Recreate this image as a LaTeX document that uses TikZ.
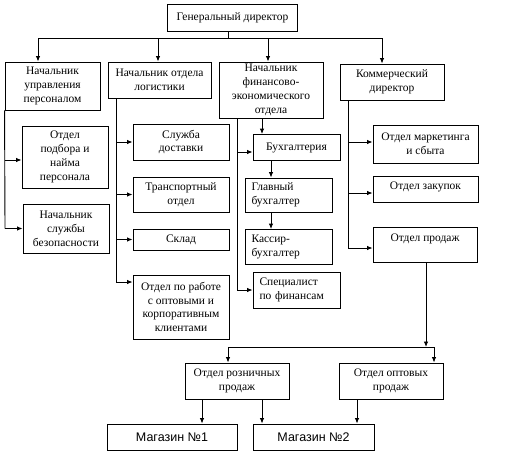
\documentclass[tikz,border=0pt]{standalone}
\usepackage{fontspec}
\setmainfont{Liberation Serif}
\newfontfamily\arialf{Liberation Sans}
\usetikzlibrary{arrows.meta}
\begin{document}
\begin{tikzpicture}[x=1pt,y=-1pt,
  box/.style={draw, line width=0.9pt, inner sep=0pt, align=center,
    font=\fontsize{11.5}{13.8}\selectfont},
  lbox/.style={box, align=left},
  sbox/.style={box, font=\arialf\fontsize{12.5}{14}\selectfont},
  ln/.style={line width=0.9pt},
  arr/.style={line width=0.9pt, -{Latex[length=5.5pt,width=4.5pt]}}]
\useasboundingbox (0,0) rectangle (510,474);
% top
\node[box, minimum width=130, minimum height=27] (gd) at (232.5,18) {Генеральный директор};
% level 2
\node[box, minimum width=95, minimum height=48] (hr) at (52.5,86) {Начальник\\управления\\персоналом};
\node[box, minimum width=103, minimum height=36] (lg) at (159.5,80) {Начальник отдела\\логистики};
\node[box, minimum width=104, minimum height=56] (fn) at (271,90) {Начальник\\финансово-\\экономического\\отдела};
\node[box, minimum width=104, minimum height=36] (km) at (392,82) {Коммерческий\\директор};
% HR column
\node[box, minimum width=86, minimum height=62] (ot) at (65,157) {Отдел\\подбора и\\найма\\персонала};
\node[box, minimum width=86, minimum height=49] (sb) at (66,228.5) {Начальник\\службы\\безопасности};
% logistics column
\node[box, minimum width=96, minimum height=36] (sd) at (181,142) {Служба\\доставки};
\node[box, minimum width=96, minimum height=35] (tr) at (181,194.5) {Транспортный\\отдел};
\node[box, minimum width=96, minimum height=21] (sk) at (181,239.5) {Склад};
\node[box, minimum width=96, minimum height=64] (ok) at (181,307) {Отдел по работе\\с оптовыми и\\корпоративным\\клиентами};
% finance column
\node[box, minimum width=87, minimum height=26] (bu) at (296.5,147.5) {Бухгалтерия};
\node[lbox, text width=74, minimum width=87, minimum height=34] (gb) at (288.5,195) {Главный\\бухгалтер};
\node[lbox, text width=74, minimum width=87, minimum height=35] (kb) at (288.5,247) {Кассир-\\бухгалтер};
\node[lbox, text width=74, minimum width=87, minimum height=36] (sf) at (296.5,290) {Специалист\\по финансам};
% commercial column
\node[box, minimum width=105, minimum height=38] (mk) at (425.5,144) {Отдел маркетинга\\и сбыта};
\node[box, minimum width=105, minimum height=26, text height=8pt, text depth=7pt] (zk) at (425.5,189) {Отдел закупок};
\node[box, minimum width=104, minimum height=35, text height=8pt, text depth=14pt] (pr) at (425,244.5) {Отдел продаж};
% sales
\node[box, minimum width=104, minimum height=36] (rz) at (237,381) {Отдел розничных\\продаж};
\node[box, minimum width=104, minimum height=36] (op) at (391,381) {Отдел оптовых\\продаж};
\node[sbox, minimum width=130, minimum height=26] (m1) at (172,437) {Магазин №1};
\node[sbox, minimum width=121, minimum height=26] (m2) at (313.5,437) {Магазин №2};

% top bus
\coordinate (b0) at (228,38);
\coordinate (b1) at (38,38);
\coordinate (b2) at (158,38);
\coordinate (b3) at (268,38);
\coordinate (b4) at (382,38);
\draw[ln] (gd.south -| b0) -- (b0);
\draw[ln] (b1) -- (b4);
\draw[arr] (b1) -- (b1 |- hr.north);
\draw[arr] (b2) -- (b2 |- lg.north);
\draw[arr] (b3) -- (b3 |- fn.north);
\draw[arr] (b4) -- (b4 |- km.north);

% HR
\coordinate (v1) at (5,110);
\draw[ln] (hr.south west) -- (v1 |- sb.west);
\draw[arr] (v1 |- 0,160) -- (ot.west |- 0,160);
\draw[arr] (v1 |- sb.west) -- (sb.west);

% logistics
\coordinate (v2) at (116,98);
\coordinate (v2e) at (116,282);
\draw[ln] (v2 |- lg.south) -- (v2e);
\draw[arr] (v2 |- sd.west) -- (sd.west);
\draw[arr] (v2 |- tr.west) -- (tr.west);
\draw[arr] (v2 |- sk.west) -- (sk.west);
\draw[arr] (v2e) -- (v2e -| ok.west);

% finance
\coordinate (v3) at (237,118);
\coordinate (v3b) at (237,152);
\coordinate (f1) at (262,118);
\coordinate (f2) at (271,160);
\draw[ln] (v3 |- fn.south) -- (v3 |- sf.west);
\draw[arr] (v3b) -- (v3b -| bu.west);
\draw[arr] (v3 |- sf.west) -- (sf.west);
\draw[arr] (f1 |- fn.south) -- (f1 |- bu.north);
\draw[arr] (f2 |- bu.south) -- (f2 |- gb.north);
\draw[arr] (f2 |- gb.south) -- (f2 |- kb.north);

% commercial
\coordinate (v4) at (348,100);
\coordinate (c1) at (348,142);
\coordinate (c2) at (348,193);
\coordinate (c3) at (348,248);
\draw[ln] (v4 |- km.south) -- (c3);
\draw[arr] (c1) -- (c1 -| mk.west);
\draw[arr] (c2) -- (c2 -| zk.west);
\draw[arr] (c3) -- (c3 -| pr.west);

% sales
\coordinate (s0) at (426,347);
\coordinate (s1) at (228,347);
\coordinate (s2) at (434,347);
\draw[arr] (s0 |- pr.south) -- (s0);
\draw[ln] (s1) -- (s2);
\draw[arr] (s1) -- (s1 |- rz.north);
\draw[arr] (s2) -- (s2 |- op.north);
\coordinate (t1) at (202,400);
\coordinate (t2) at (262,400);
\coordinate (t3) at (357,400);
\draw[arr] (t1 |- rz.south) -- (t1 |- m1.north);
\draw[arr] (t2 |- rz.south) -- (t2 |- m2.north);
\draw[arr] (t3 |- op.south) -- (t3 |- m2.north);
\end{tikzpicture}
\end{document}
